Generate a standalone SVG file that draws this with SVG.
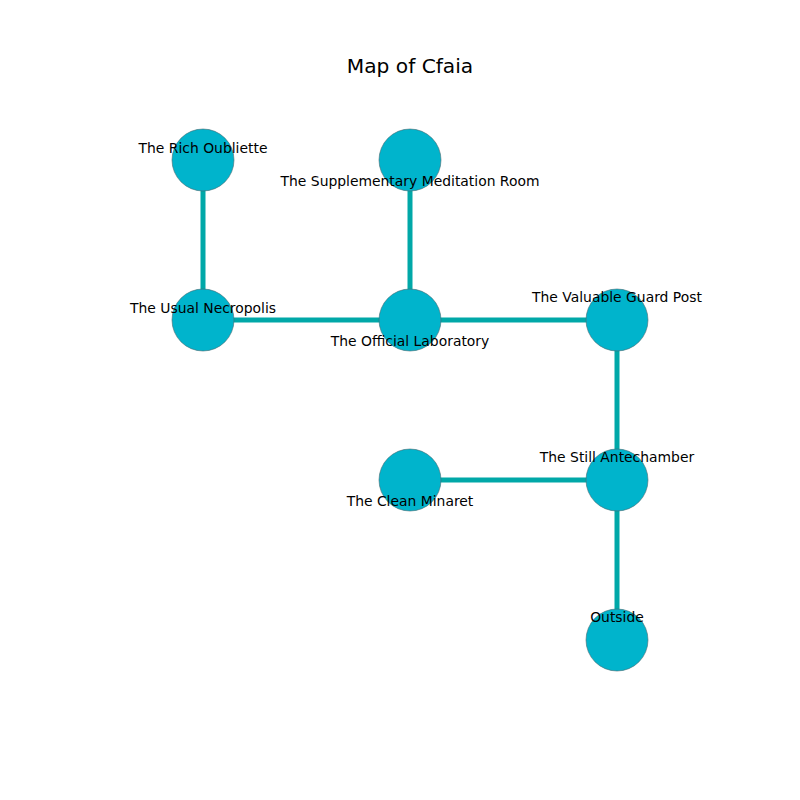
<svg xmlns="http://www.w3.org/2000/svg" width="800" height="800" viewBox="0 0 800 800">
<style>
.e{stroke:#00a8a8;stroke-width:5;fill:none}
.n{fill:#00b4cc;stroke:#4a6a70;stroke-width:0.6}
.l{font-family:"DejaVu Sans",sans-serif;font-size:13.9px;fill:#000;text-anchor:middle}
.t{font-family:"DejaVu Sans",sans-serif;font-size:20.2px;fill:#000;text-anchor:middle}
</style>
<rect width="800" height="800" fill="#fff"/>
<text class="t" x="410" y="73">Map of Cfaia</text>
<g id="connectors">
<line class="e" x1="203" y1="160" x2="203" y2="320"/>
<line class="e" x1="410" y1="160" x2="410" y2="320"/>
<line class="e" x1="203" y1="320" x2="617" y2="320"/>
<line class="e" x1="617" y1="320" x2="617" y2="640"/>
<line class="e" x1="410" y1="480" x2="617" y2="480"/>
</g>
<g id="rich"><circle class="n" cx="203" cy="160" r="31"/></g>
<g id="supp"><circle class="n" cx="410" cy="160" r="31"/></g>
<g id="usual"><circle class="n" cx="203" cy="320" r="31"/></g>
<g id="official"><circle class="n" cx="410" cy="320" r="31"/></g>
<g id="valuable"><circle class="n" cx="617" cy="320" r="31"/></g>
<g id="clean"><circle class="n" cx="410" cy="480" r="31"/></g>
<g id="still"><circle class="n" cx="617" cy="480" r="31"/></g>
<g id="outside"><circle class="n" cx="617" cy="640" r="31"/></g>
<g id="labels">
<text class="l" x="203" y="153">The Rich Oubliette</text>
<text class="l" x="410" y="186">The Supplementary Meditation Room</text>
<text class="l" x="203" y="313">The Usual Necropolis</text>
<text class="l" x="410" y="346">The Official Laboratory</text>
<text class="l" x="617" y="302">The Valuable Guard Post</text>
<text class="l" x="410" y="506">The Clean Minaret</text>
<text class="l" x="617" y="462">The Still Antechamber</text>
<text class="l" x="617" y="622">Outside</text>
</g>
</svg>
